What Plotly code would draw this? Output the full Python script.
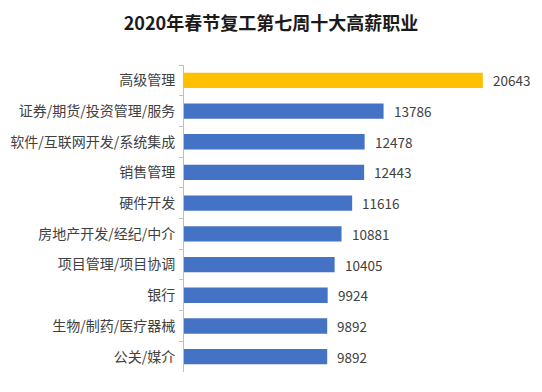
import plotly.graph_objects as go

categories = ["高级管理", "证券/期货/投资管理/服务", "软件/互联网开发/系统集成", "销售管理",
              "硬件开发", "房地产开发/经纪/中介", "项目管理/项目协调", "银行",
              "生物/制药/医疗器械", "公关/媒介"]
values = [20643, 13786, 12478, 12443, 11616, 10881, 10405, 9924, 9892, 9892]
colors = ["#FFC000"] + ["#4472C4"] * 9

FONT = "Noto Sans CJK SC"

fig = go.Figure(go.Bar(
    y=categories, x=values, orientation="h",
    marker=dict(color=colors, line=dict(width=0)),
    width=0.5,
))

for c, v in zip(categories, values):
    fig.add_annotation(x=v, y=c, text=str(v), showarrow=False,
                       xanchor="left", xshift=8,
                       font=dict(family=FONT, size=13.5, color="#404040"))

fig.update_layout(
    width=542, height=392,
    margin=dict(l=184, r=12, t=65, b=20),
    paper_bgcolor="white", plot_bgcolor="white",
    title=dict(text="<b>2020年春节复工第七周十大高薪职业</b>", x=0.5, xanchor="center",
               y=0.94, yanchor="middle",
               font=dict(family=FONT, size=18, color="#1a1a1a")),
    showlegend=False,
    xaxis=dict(range=[0, 23900], visible=False),
    yaxis=dict(autorange="reversed", automargin=False, showline=True,
               linecolor="#BFBFBF", linewidth=1,
               ticks="outside", tickson="boundaries", ticklen=4, tickcolor="#BFBFBF",
               ticklabelstandoff=5,
               tickfont=dict(family=FONT, size=14, color="#404040"),
               showgrid=False),
)

fig.write_html("out.html", config={"displayModeBar": False},
               post_script="document.body.style.margin='0';")
